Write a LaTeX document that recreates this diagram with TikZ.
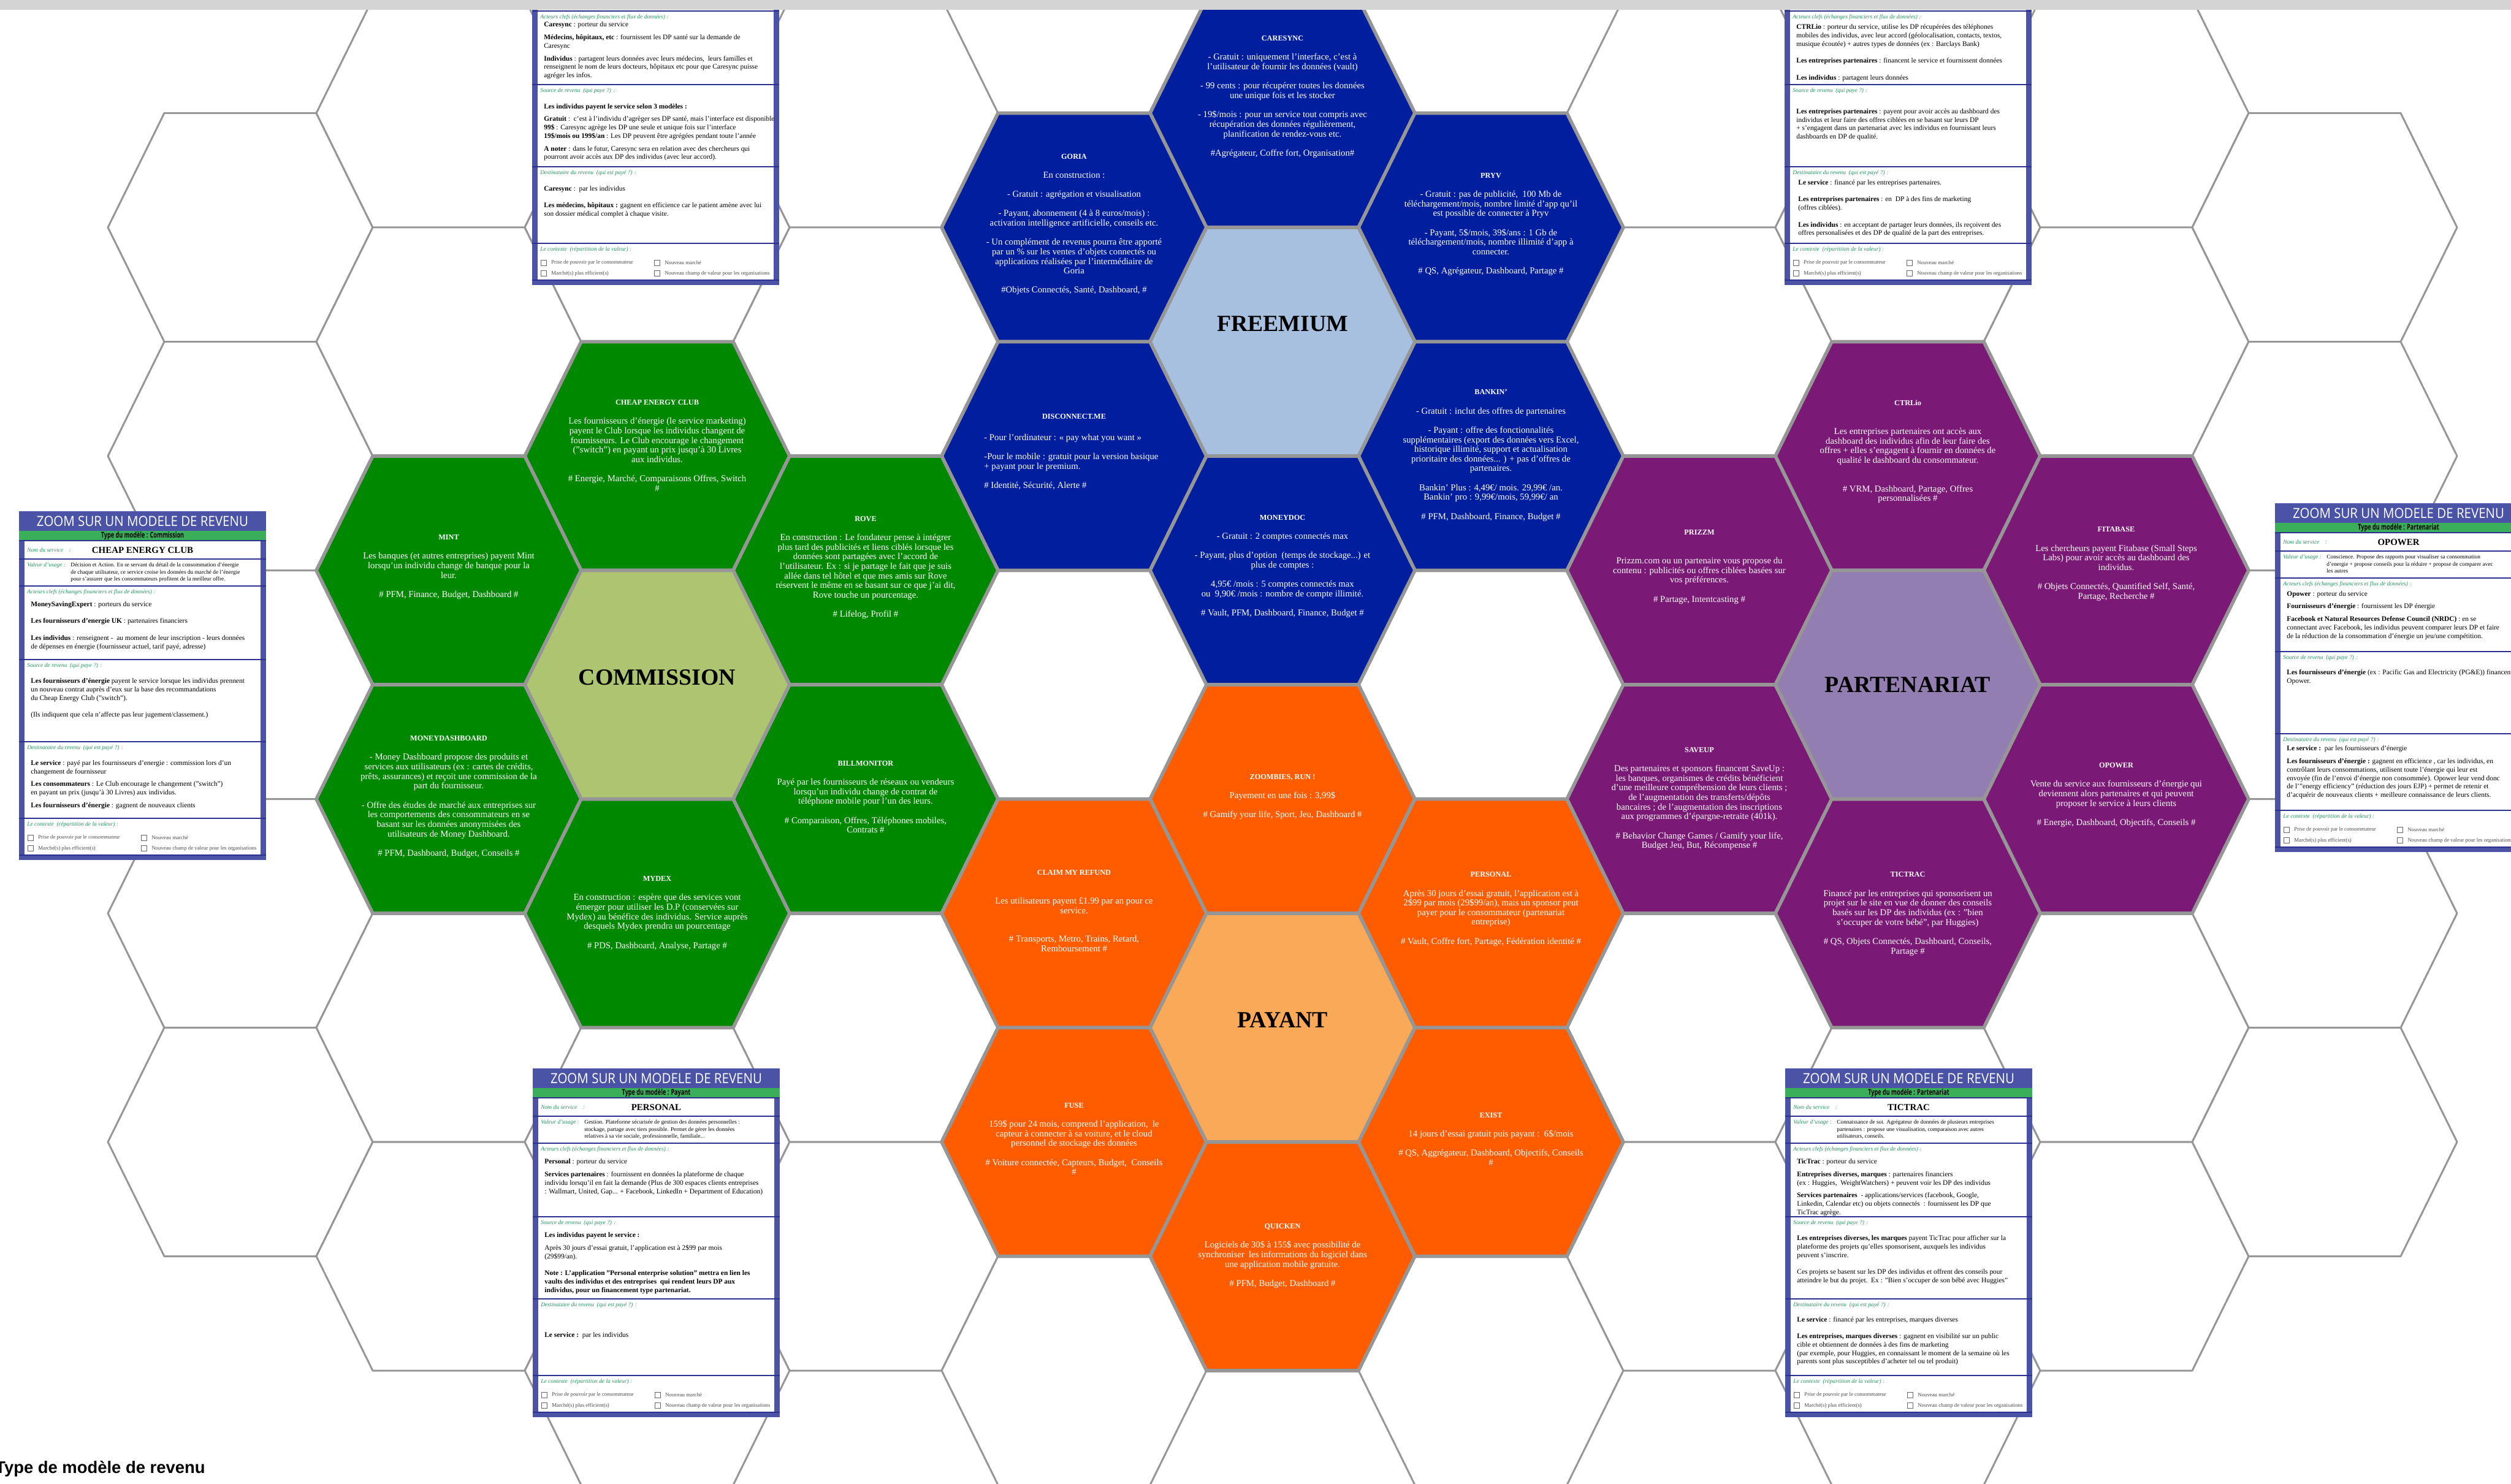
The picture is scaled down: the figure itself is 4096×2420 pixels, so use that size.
\documentclass[tikz,border=0pt]{standalone}
\usepackage{fontspec}
\setmainfont{Liberation Serif}
\newfontfamily\headfont{Open Sans}
\newfontfamily\legendfont{Liberation Sans}
\usetikzlibrary{calc,positioning}

\definecolor{HexGrey}{RGB}{150,150,150}
\definecolor{TopGrey}{RGB}{212,212,212}
\definecolor{FreeBlue}{RGB}{1,30,158}
\definecolor{FreeLight}{RGB}{167,192,223}
\definecolor{ComGreen}{RGB}{0,137,0}
\definecolor{ComLight}{RGB}{173,197,112}
\definecolor{PayOrange}{RGB}{255,92,0}
\definecolor{PayLight}{RGB}{249,169,88}
\definecolor{PartPurple}{RGB}{123,25,118}
\definecolor{PartLight}{RGB}{147,126,177}
\definecolor{CardBlue}{RGB}{74,83,166}
\definecolor{CardLine}{RGB}{44,48,142}
\definecolor{CardGreen}{RGB}{58,174,89}
\definecolor{LabelGreen}{RGB}{35,150,95}

\newdimen\px
\px=0.02cm

% gaps between paragraphs
\newcommand{\hexgap}{\\[8.9pt]}
\newcommand{\hexgapp}{\\[17.8pt]}
\newcommand{\hgap}{\\[3.9pt]}
\newcommand{\fgap}{\\[7.8pt]}
\newcommand{\hextitle}[1]{{\fontsize{7}{8.9}\selectfont\bfseries #1}}

\tikzset{
  emptycell/.style={draw=HexGrey, line width=1.7pt, fill=white, line join=round},
  hexcell/.style={draw=HexGrey, line width=3.2pt, fill=#1, line join=round},
  headtext/.style={text=white, inner sep=0pt},
  typetext/.style={inner sep=0pt, font=\fontsize{7.4}{8}\headfont\bfseries},
  servtext/.style={inner sep=0pt, font=\fontsize{8.5}{9}\selectfont\bfseries},
  cardlabel/.style={anchor=west, inner sep=0pt, text=LabelGreen, font=\fontsize{5.4}{6}\selectfont\itshape},
  valtext/.style={anchor=north west, align=left, inner sep=0pt, font=\fontsize{5.3}{6.5}\selectfont},
  cardbody/.style={anchor=north west, align=left, inner sep=0pt, font=\fontsize{6.5}{7.85}\selectfont},
  boxline/.style={draw=black!60, line width=0.5pt, fill=white},
  boxtext/.style={anchor=west, inner sep=0pt, text=black!70, font=\fontsize{5}{6}\selectfont},
}

% hexagon of column #2, row #3
\newcommand{\hexa}[3][emptycell]{%
  \draw[#1] ({2092+340*(#2)-216},{557.5+186.5*(#3)}) -- ++(92,-186.5) -- ++(248,0)
    -- ++(92,186.5) -- ++(-92,186.5) -- ++(-248,0) -- cycle;}

% card frame: name, x, y
\newcommand{\cardframe}[3]{%
  \coordinate (#1) at (#2,#3);
  \begin{scope}[shift={(#2,#3)}]
    \fill[CardBlue] (0,0) rectangle (403,569);
    \fill[CardGreen] (0,31.5) rectangle (403,48);
    \fill[white] (9,48) rectangle (394,561);
    \foreach \s in {48,78,122,242,376,501,561}{
      \draw[CardLine, line width=1.2pt] (0,\s) -- (403,\s);}
    \node[cardlabel] (#1-act) at (13,132) {Acteurs clefs (échanges financiers et flux de données) :};
    \node[cardlabel] (#1-src) at (13,252) {Source de revenu\enspace (qui paye ?) :};
    \node[cardlabel] (#1-dst) at (13,386) {Destinataire du revenu\enspace (qui est payé ?) :};
    \node[cardlabel] (#1-ctx) at (13,511) {Le contexte\enspace (répartition de la valeur) :};
    \foreach \bx/\by/\lbl [count=\n] in {14/532.5/Prise de pouvoir par le consommateur,
        199/532.5/Nouveau marché, 14/550/Marché(s) plus efficient(s),
        199/550/Nouveau champ de valeur pour les organisations}{
      \draw[boxline] (\bx,\by-4.5) rectangle ++(9,9);
      \node[boxtext] (#1-box\n) at (\bx+17,\by) {\lbl};
    }
  \end{scope}}

% card head: name, type, service, valeur
\newcommand{\cardhead}[4]{%
  \begin{scope}[shift={(#1)}]
    \node[headtext] (#1-head) at (201.5,16) {\resizebox{345\px}{16.5\px}{\headfont ZOOM SUR UN MODELE DE REVENU}};
    \node[typetext] (#1-type) at (201.5,40) {\scalebox{0.7}[1]{Type du modèle : #2}};
    \node[cardlabel] (#1-nom) at (13,63) {Nom du service\quad :};
    \node[servtext] (#1-serv) at (201.5,64) {#3};
    \node[cardlabel] (#1-val) at (13,88) {Valeur d'usage :};
    \node[valtext] (#1-valtxt) at (84,84) {#4};
  \end{scope}}

\begin{document}
\begin{tikzpicture}[x=0.02cm, y=-0.02cm,
    hextext/.style={text=white, align=center, inner sep=0pt, font=\fontsize{8.4}{8.9}\selectfont},
    hubtext/.style={text=black, inner sep=0pt, font=\fontsize{21.5}{24}\selectfont\bfseries}
  ]
  \useasboundingbox (0,0) rectangle (4096,2420);
  \clip (0,0) rectangle (4096,2420);

  % background grid
  \foreach \i/\jlo/\n in {-5/-1/4, -4/-2/5, -3/-1/5, -2/-2/5, -1/-1/5, 0/-2/5,
                          1/-1/5, 2/-2/5, 3/-1/5, 4/-2/5, 5/-1/4}{
    \foreach \k in {0,...,\n}{
      \pgfmathtruncatemacro{\j}{\jlo+2*\k}
      \hexa{\i}{\j}
    }}

  % freemium
  \foreach \i/\j in {0/-2, -1/-1, 1/-1, -1/1, 1/1, 0/2}{
    \hexa[hexcell=FreeBlue]{\i}{\j}}
  \hexa[hexcell=FreeLight]{0}{0}
  % commission
  \foreach \i/\j in {-3/1, -4/2, -2/2, -4/4, -2/4, -3/5}{
    \hexa[hexcell=ComGreen]{\i}{\j}}
  \hexa[hexcell=ComLight]{-3}{3}
  % payant
  \foreach \i/\j in {0/4, -1/5, 1/5, -1/7, 1/7, 0/8}{
    \hexa[hexcell=PayOrange]{\i}{\j}}
  \hexa[hexcell=PayLight]{0}{6}
  % partenariat
  \foreach \i/\j in {3/1, 2/2, 4/2, 2/4, 4/4, 3/5}{
    \hexa[hexcell=PartPurple]{\i}{\j}}
  \hexa[hexcell=PartLight]{3}{3}

  \node[hubtext] (freemium) at (2092,528) {FREEMIUM};
  \node[hubtext] (commission) at (1072,1105) {COMMISSION};
  \node[hubtext] (payant) at (2092,1664) {PAYANT};
  \node[hubtext] (partenariat) at (3112,1117) {PARTENARIAT};

  \node[hextext] (caresync) at (2092,158) {\hextitle{CARESYNC}\hexgap
    - Gratuit : uniquement l'interface, c'est à\\ l'utilisateur de fournir les données (vault)\hexgap
    - 99 cents : pour récupérer toutes les données\\ une unique fois et les stocker\hexgap
    - 19\$/mois : pour un service tout compris avec\\ récupération des données régulièrement,\\ planification de rendez-vous etc.\hexgap
    \#Agrégateur, Coffre fort, Organisation\#};
  \node[hextext] (goria) at (1752,366) {\hextitle{GORIA}\hexgap En construction :\hexgap
    - Gratuit : agrégation et visualisation\hexgap
    - Payant, abonnement (4 à 8 euros/mois) :\\ activation intelligence artificielle, conseils etc.\hexgap
    - Un complément de revenus pourra être apporté\\ par un \% sur les ventes d'objets connectés ou\\ applications réalisées par l'intermédiaire de\\ Goria\hexgap
    \#Objets Connectés, Santé, Dashboard, \#};
  \node[hextext] (pryv) at (2432,366) {\hextitle{PRYV}\hexgap
    - Gratuit : pas de publicité,\enspace 100 Mb de\\ téléchargement/mois, nombre limité d'app qu'il\\ est possible de connecter à Pryv\hexgap
    - Payant, 5\$/mois, 39\$/ans : 1 Gb de\\ téléchargement/mois, nombre illimité d'app à\\ connecter.\hexgap
    \# QS, Agrégateur, Dashboard, Partage \#};
  \node[hextext] (disconnect) at (1752,680) {\hextitle{DISCONNECT.ME}};
  \node[hextext, anchor=north west, align=left] (disconnect-b) at (1605,708) {- Pour l'ordinateur : « pay what you want »\hexgap
    -Pour le mobile : gratuit pour la version basique\\ + payant pour le premium.\hexgap
    \# Identité, Sécurité, Alerte \#};
  \node[hextext] (bankin) at (2432,743) {\hextitle{BANKIN'}\hexgap
    - Gratuit : inclut des offres de partenaires\hexgap
    - Payant : offre des fonctionnalités\\ supplémentaires (export des données vers Excel,\\ historique illimité, support et actualisation\\ prioritaire des données... ) + pas d'offres de\\ partenaires.\hexgap
    Bankin' Plus : 4,49€/ mois. 29,99€ /an.\\ Bankin' pro : 9,99€/mois, 59,99€/ an\hexgap
    \# PFM, Dashboard, Finance, Budget \#};
  \node[hextext] (moneydoc) at (2092,924) {\hextitle{MONEYDOC}\hexgap
    - Gratuit : 2 comptes connectés max\hexgap
    - Payant, plus d'option\enspace(temps de stockage...) et\\ plus de comptes :\hexgap
    4,95€ /mois : 5 comptes connectés max\\ ou\enspace 9,90€ /mois : nombre de compte illimité.\hexgap
    \# Vault, PFM, Dashboard, Finance, Budget \#};

  \node[hextext] (cheap) at (1072,727) {\hextitle{CHEAP ENERGY CLUB}\hexgap
    Les fournisseurs d'énergie (le service marketing)\\ payent le Club lorsque les individus changent de\\ fournisseurs. Le Club encourage le changement\\ ("switch") en payant un prix jusqu'à 30 Livres\\ aux individus.\hexgap
    \# Energie, Marché, Comparaisons Offres, Switch\\ \#};
  \node[hextext] (mint) at (732,925) {\hextitle{MINT}\hexgap
    Les banques (et autres entreprises) payent Mint\\ lorsqu'un individu change de banque pour la\\ leur.\hexgap
    \# PFM, Finance, Budget, Dashboard \#};
  \node[hextext] (rove) at (1412,926) {\hextitle{ROVE}\hexgap
    En construction : Le fondateur pense à intégrer\\ plus tard des publicités et liens ciblés lorsque les\\ données sont partagées avec l'accord de\\ l'utilisateur. Ex : si je partage le fait que je suis\\ allée dans tel hôtel et que mes amis sur Rove\\ réservent le même en se basant sur ce que j'ai dit,\\ Rove touche un pourcentage.\hexgap
    \# Lifelog, Profil \#};
  \node[hextext] (moneydash) at (732,1300) {\hextitle{MONEYDASHBOARD}\hexgap
    - Money Dashboard propose des produits et\\ services aux utilisateurs (ex : cartes de crédits,\\ prêts, assurances) et reçoit une commission de la\\ part du fournisseur.\hexgap
    - Offre des études de marché aux entreprises sur\\ les comportements des consommateurs en se\\ basant sur les données anonymisées des\\ utilisateurs de Money Dashboard.\hexgap
    \# PFM, Dashboard, Budget, Conseils \#};
  \node[hextext] (billmon) at (1412,1300) {\hextitle{BILLMONITOR}\hexgap
    Payé par les fournisseurs de réseaux ou vendeurs\\ lorsqu'un individu change de contrat de\\ téléphone mobile pour l'un des leurs.\hexgap
    \# Comparaison, Offres, Téléphones mobiles,\\ Contrats \#};
  \node[hextext] (mydex) at (1072,1490) {\hextitle{MYDEX}\hexgap
    En construction : espère que des services vont\\ émerger pour utiliser les D.P (conservées sur\\ Mydex) au bénéfice des individus. Service auprès\\ desquels Mydex prendra un pourcentage\hexgap
    \# PDS, Dashboard, Analyse, Partage \#};

  \node[hextext] (zoombies) at (2092,1300) {\hextitle{ZOOMBIES, RUN !}\hexgap
    Payement en une fois : 3,99\$\hexgap
    \# Gamify your life, Sport, Jeu, Dashboard \#};
  \node[hextext] (claim) at (1752,1486) {\hextitle{CLAIM MY REFUND}\hexgapp
    Les utilisateurs payent £1.99 par an pour ce\\ service.\hexgapp
    \# Transports, Metro, Trains, Retard,\\ Remboursement \#};
  \node[hextext] (personal) at (2432,1483) {\hextitle{PERSONAL}\hexgap
    Après 30 jours d'essai gratuit, l'application est à\\ 2\$99 par mois (29\$99/an), mais un sponsor peut\\ payer pour le consommateur (partenariat\\ entreprise)\hexgap
    \# Vault, Coffre fort, Partage, Fédération identité \#};
  \node[hextext] (fuse) at (1752,1858) {\hextitle{FUSE}\hexgap
    159\$ pour 24 mois, comprend l'application,\enspace le\\ capteur à connecter à sa voiture, et le cloud\\ personnel de stockage des données\hexgap
    \# Voiture connectée, Capteurs, Budget,\enspace Conseils\\ \#};
  \node[hextext] (exist) at (2432,1858) {\hextitle{EXIST}\hexgap
    14 jours d'essai gratuit puis payant :\enspace 6\$/mois\hexgap
    \# QS, Aggrégateur, Dashboard, Objectifs, Conseils\\ \#};
  \node[hextext] (quicken) at (2092,2049) {\hextitle{QUICKEN}\hexgap
    Logiciels de 30\$ à 155\$ avec possibilité de\\ synchroniser\enspace les informations du logiciel dans\\ une application mobile gratuite.\hexgap
    \# PFM, Budget, Dashboard \#};

  \node[hextext] (ctrlio) at (3112,737) {\hextitle{CTRLio}\hexgapp
    Les entreprises partenaires ont accès aux\\ dashboard des individus afin de leur faire des\\ offres + elles s'engagent à fournir en données de\\ qualité le dashboard du consommateur.\hexgapp
    \# VRM, Dashboard, Partage, Offres\\ personnalisées \#};
  \node[hextext] (prizzm) at (2772,925) {\hextitle{PRIZZM}\hexgapp
    Prizzm.com ou un partenaire vous propose du\\ contenu : publicités ou offres ciblées basées sur\\ vos préférences.\hexgap
    \# Partage, Intentcasting \#};
  \node[hextext] (fitabase) at (3452,920) {\hextitle{FITABASE}\hexgap
    Les chercheurs payent Fitabase (Small Steps\\ Labs) pour avoir accès au dashboard des\\ individus.\hexgap
    \# Objets Connectés, Quantified Self, Santé,\\ Partage, Recherche \#};
  \node[hextext] (saveup) at (2772,1303) {\hextitle{SAVEUP}\hexgap
    Des partenaires et sponsors financent SaveUp :\\ les banques, organismes de crédits bénéficient\\ d'une meilleure compréhension de leurs clients ;\\ de l'augmentation des transferts/dépôts\\ bancaires ; de l'augmentation des inscriptions\\ aux programmes d'épargne-retraite (401k).\hexgap
    \# Behavior Change Games / Gamify your life,\\ Budget Jeu, But, Récompense \#};
  \node[hextext] (opower) at (3452,1297) {\hextitle{OPOWER}\hexgap
    Vente du service aux fournisseurs d'énergie qui\\ deviennent alors partenaires et qui peuvent\\ proposer le service à leurs clients\hexgap
    \# Energie, Dashboard, Objectifs, Conseils \#};
  \node[hextext] (tictrac) at (3112,1491) {\hextitle{TICTRAC}\hexgap
    Financé par les entreprises qui sponsorisent un\\ projet sur le site en vue de donner des conseils\\ basés sur les DP des individus (ex : "bien\\ s'occuper de votre bébé", par Huggies)\hexgap
    \# QS, Objets Connectés, Dashboard, Conseils,\\ Partage \#};

  % cards
  \cardframe{carecard}{868}{-104}
  \node[cardbody] (carecard-a) at ($(carecard)+(19,139.7)$) {\textbf{Caresync} : porteur du service\hgap
    \textbf{Médecins, hôpitaux, etc} : fournissent les DP santé sur la demande de\\ Caresync\hgap
    \textbf{Individus} : partagent leurs données avec leurs médecins,\enspace leurs familles et\\ renseignent le nom de leurs docteurs, hôpitaux etc pour que Caresync puisse\\ agréger les infos.};
  \node[cardbody] (carecard-s) at ($(carecard)+(19,273)$) {\textbf{Les individus payent le service selon 3 modèles :}\hgap
    \textbf{Gratuit} :\enspace c'est à l'individu d'agrèger ses DP santé, mais l'interface est disponible\\
    \textbf{99\$} : Caresync agrège les DP une seule et unique fois sur l'interface\\
    \textbf{19\$/mois ou 199\$/an} : Les DP peuvent être agrégées pendant toute l'année\hgap
    \textbf{A noter} : dans le futur, Caresync sera en relation avec des chercheurs qui\\ pourront avoir accès aux DP des individus (avec leur accord).};
  \node[cardbody] (carecard-d) at ($(carecard)+(19,407)$) {\textbf{Caresync} :\enspace par les individus\fgap
    \textbf{Les médecins, hôpitaux :} gagnent en efficience car le patient amène avec lui\\ son dossier médical complet à chaque visite.};

  \cardframe{ctrlcard}{2911}{-104}
  \node[cardbody] (ctrlcard-a) at ($(ctrlcard)+(19,143.3)$) {\textbf{CTRLio} : porteur du service, utilise les DP récupérées des téléphones\\ mobiles des individus, avec leur accord (géolocalisation, contacts, textos,\\ musique écoutée) + autres types de données (ex : Barclays Bank)\fgap
    \textbf{Les entreprises partenaires} : financent le service et fournissent données\fgap
    \textbf{Les individus} : partagent leurs données};
  \node[cardbody] (ctrlcard-s) at ($(ctrlcard)+(19,281)$) {\textbf{Les entreprises partenaires} : payent pour avoir accès au dashboard des\\ individus et leur faire des offres ciblées en se basant sur leurs DP\\ + s'engagent dans un partenariat avec les individus en fournissant leurs\\ dashboards en DP de qualité.};
  \node[cardbody] (ctrlcard-d) at ($(ctrlcard)+(22,397)$) {\textbf{Le service} : financé par les entreprises partenaires.\fgap
    \textbf{Les entreprises partenaires} : en\enspace DP à des fins de marketing\\ (offres ciblées).\fgap
    \textbf{Les individus} : en acceptant de partager leurs données, ils reçoivent des\\ offres personalisées et des DP de qualité de la part des entreprises.};

  \cardframe{cheapcard}{31}{834}
  \cardhead{cheapcard}{Commission}{CHEAP ENERGY CLUB}{Décision et Action. En se servant du détail de la consommation d'énergie\\ de chaque utilisateur, ce service croise les données du marché de l'énergie\\ pour s'assurer que les consommateurs profitent de la meilleur offre.}
  \node[cardbody] (cheapcard-a) at ($(cheapcard)+(19,147)$) {\textbf{MoneySavingExpert} : porteurs du service\fgap
    \textbf{Les fournisseurs d'energie UK} : partenaires financiers\fgap
    \textbf{Les individus} : renseignent -\enspace au moment de leur inscription - leurs données\\ de dépenses en énergie (fournisseur actuel, tarif payé, adresse)};
  \node[cardbody] (cheapcard-s) at ($(cheapcard)+(19,272.5)$) {\textbf{Les fournisseurs d'énergie} payent le service lorsque les individus prennent\\ un nouveau contrat auprès d'eux sur la base des recommandations\\ du Cheap Energy Club ("switch").\fgap
    (Ils indiquent que cela n'affecte pas leur jugement/classement.)};
  \node[cardbody] (cheapcard-d) at ($(cheapcard)+(19,406)$) {\textbf{Le service} : payé par les fournisseurs d'energie : commission lors d'un\\ changement de fournisseur\hgap
    \textbf{Les consommateurs} : Le Club encourage le changement ("switch")\\ en payant un prix (jusqu'à 30 Livres) aux individus.\hgap
    \textbf{Les fournisseurs d'énergie} : gagnent de nouveaux clients};

  \cardframe{opowercard}{3711}{821}
  \cardhead{opowercard}{Partenariat}{OPOWER}{Conscience. Propose des rapports pour visualiser sa consommation\\ d'energie + propose conseils pour la réduire + propose de comparer avec\\ les autres}
  \node[cardbody] (opowercard-a) at ($(opowercard)+(19,143)$) {\textbf{Opower} : porteur du service\hgap
    \textbf{Fournisseurs d'énergie} : fournissent les DP énergie\hgap
    \textbf{Facebook et Natural Resources Defense Council (NRDC)} : en se\\ connectant avec Facebook, les individus peuvent comparer leurs DP et faire\\ de la réduction de la consommation d'énergie un jeu/une compétition.};
  \node[cardbody] (opowercard-s) at ($(opowercard)+(19,271)$) {\textbf{Les fournisseurs d'énergie} (ex : Pacific Gas and Electricity (PG\&E)) financent\\ Opower.};
  \node[cardbody] (opowercard-d) at ($(opowercard)+(19,395.4)$) {\textbf{Le service :}\enspace par les fournisseurs d'énergie\hgap
    \textbf{Les fournisseurs d'énergie :} gagnent en efficience , car les individus, en\\ contrôlant leurs consommations, utilisent toute l'énergie qui leur est\\ envoyée (fin de l'envoi d'énergie non consommée). Opower leur vend donc\\ de l'"energy efficiency" (réduction des jours EJP) + permet de retenir et\\ d'acquérir de nouveaux clients + meilleure connaissance de leurs clients.};

  \cardframe{personalcard}{869}{1743}
  \cardhead{personalcard}{Payant}{PERSONAL}{Gestion. Plateforme sécurisée de gestion des données personnelles :\\ stockage, partage avec tiers possible. Permet de gérer les données\\ relatives à sa vie sociale, professionnelle, familiale...}
  \node[cardbody] (personalcard-a) at ($(personalcard)+(19,147.6)$) {\textbf{Personal} : porteur du service\hgap
    \textbf{Services partenaires} : fournissent en données la plateforme de chaque\\ individu lorsqu'il en fait la demande (Plus de 300 espaces clients entreprises\\ : Wallmart, United, Gap... + Facebook, LinkedIn + Department of Education)};
  \node[cardbody] (personalcard-s) at ($(personalcard)+(19,267.4)$) {\textbf{Les individus payent le service :}\hgap
    Après 30 jours d'essai gratuit, l'application est à 2\$99 par mois\\ (29\$99/an).\fgap
    \textbf{Note : L'application "Personal enterprise solution" mettra en lien les}\\ \textbf{vaults des individus et des entreprises\enspace qui rendent leurs DP aux}\\ \textbf{individus, pour un financement type partenariat.}};
  \node[cardbody] (personalcard-d) at ($(personalcard)+(19,430.4)$) {\textbf{Le service :}\enspace par les individus};

  \cardframe{tictraccard}{2912}{1743}
  \cardhead{tictraccard}{Partenariat}{TICTRAC}{Connaissance de soi. Agrégateur de données de plusieurs entreprises\\ partenaires : propose une visualisation, comparaison avec autres\\ utilisateurs, conseils.}
  \node[cardbody] (tictraccard-a) at ($(tictraccard)+(19,147.6)$) {\textbf{TicTrac} : porteur du service\hgap
    \textbf{Entreprises diverses, marques} : partenaires financiers\\ (ex : Huggies,\enspace WeightWatchers) + peuvent voir les DP des individus\hgap
    \textbf{Services partenaires}\enspace - applications/services (facebook, Google,\\ Linkedin, Calendar etc) ou objets connectés\enspace : fournissent les DP que\\ TicTrac agrège.};
  \node[cardbody] (tictraccard-s) at ($(tictraccard)+(19,272)$) {\textbf{Les entreprises diverses, les marques} payent TicTrac pour afficher sur la\\ plateforme des projets qu'elles sponsorisent, auxquels les individus\\ peuvent s'inscrire.\fgap
    Ces projets se basent sur les DP des individus et offrent des conseils pour\\ atteindre le but du projet.\enspace Ex : "Bien s'occuper de son bébé avec Huggies"};
  \node[cardbody] (tictraccard-d) at ($(tictraccard)+(19,404.7)$) {\textbf{Le service} : financé par les entreprises, marques diverses\fgap
    \textbf{Les entreprises, marques diverses} : gagnent en visibilité sur un public\\ cible et obtiennent de données à des fins de marketing\\ (par exemple, pour Huggies, en connaissant le moment de la semaine où les\\ parents sont plus susceptibles d'acheter tel ou tel produit)};

  % top band and legend
  \fill[TopGrey] (0,0) rectangle (4096,16);
  \node[anchor=base west, inner sep=0pt, font={\fontsize{15.6}{18}\legendfont\bfseries}] (legend) at (-8,2403.5) {Type de modèle de revenu};
\end{tikzpicture}
\end{document}
